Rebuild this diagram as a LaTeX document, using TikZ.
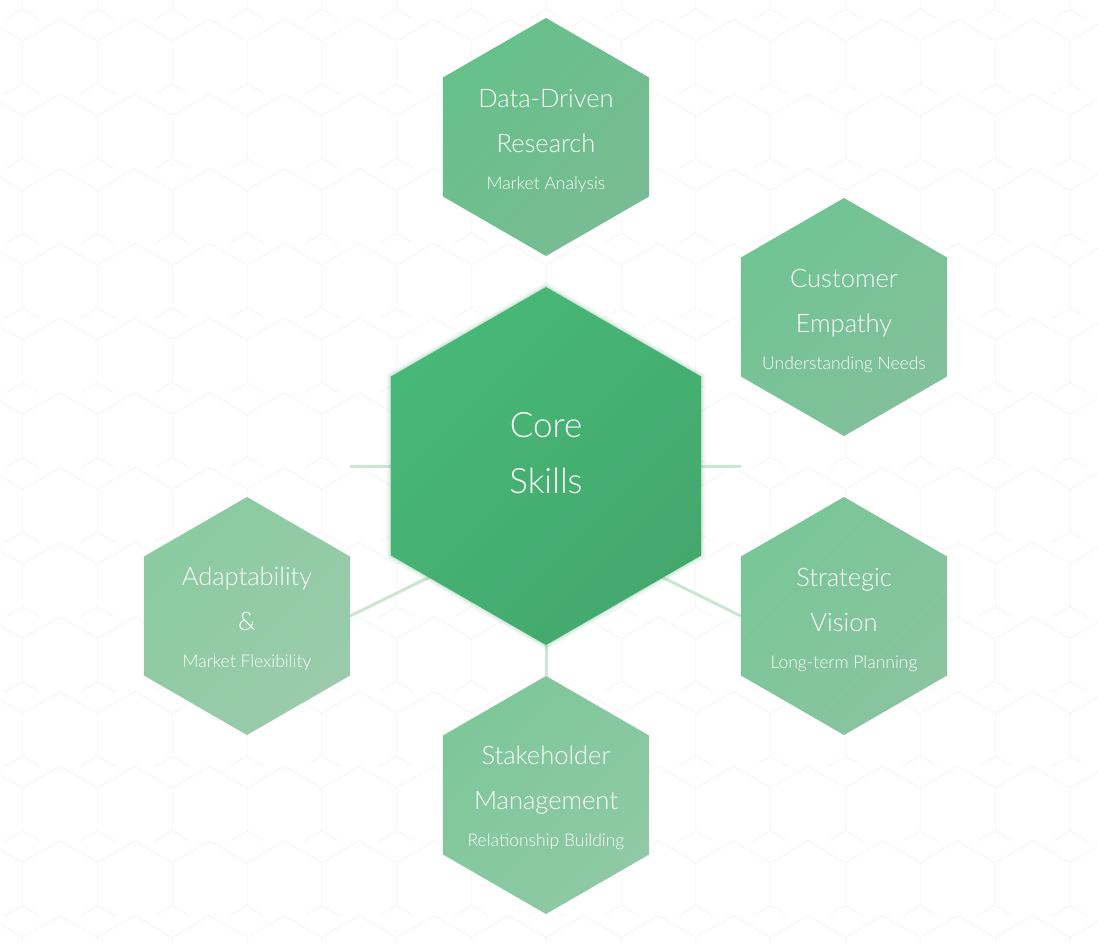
\documentclass[tikz,border=0pt]{standalone}
\usepackage{fontspec}
\IfFontExistsTF{Lato Light}{\setmainfont{Lato Light}}{\setmainfont{Liberation Sans}}
\usetikzlibrary{shapes.geometric}
\definecolor{coreA}{HTML}{47B878}
\definecolor{coreB}{HTML}{44A86D}
\definecolor{dataA}{HTML}{66C089}
\definecolor{dataB}{HTML}{79BC94}
\definecolor{custA}{HTML}{70C493}
\definecolor{custB}{HTML}{83C09C}
\definecolor{stratA}{HTML}{79C697}
\definecolor{stratB}{HTML}{8AC4A0}
\definecolor{stakeA}{HTML}{7EC79A}
\definecolor{stakeB}{HTML}{8FC9A5}
\definecolor{adaptA}{HTML}{8ACBA0}
\definecolor{adaptB}{HTML}{9BCBAC}
\definecolor{linkgreen}{HTML}{CBE7D3}
\definecolor{gridgray}{HTML}{F7F7F7}
\pgfdeclarelayer{bg}
\pgfsetlayers{bg,main}
\tikzset{
  hexbox/.style={regular polygon, regular polygon sides=6, shape border rotate=30,
    inner sep=0pt, outer sep=0pt, draw=none},
  smallhex/.style={hexbox, minimum size=238pt},
  bighex/.style={hexbox, minimum size=358pt},
  titletext/.style={text=white, font=\fontsize{25.5}{30}\selectfont, anchor=base, inner sep=0pt},
  subtext/.style={text=white, font=\fontsize{17.5}{21}\selectfont, anchor=base, inner sep=0pt},
  coretext/.style={text=white, font=\fontsize{35}{40}\selectfont, anchor=base, inner sep=0pt},
  link/.style={draw=linkgreen, line width=3pt},
  bggrid/.style={draw=gridgray, line width=1pt},
  shadeTLBR/.style n args={2}{top color=#1, bottom color=#2, shading angle=45},
}
\begin{document}
\begin{tikzpicture}[x=1pt,y=-1pt]
\useasboundingbox (0,0) rectangle (1098,943);
% hexagons
\node[bighex, shadeTLBR={coreA}{coreB},
  preaction={draw=coreB, draw opacity=0.06, line width=9pt},
  preaction={draw=coreB, draw opacity=0.10, line width=5pt},
  preaction={draw=coreB, draw opacity=0.15, line width=2pt}] (core) at (546,466) {};
\node[smallhex, shadeTLBR={dataA}{dataB}] (data) at (546,137) {};
\node[smallhex, shadeTLBR={custA}{custB}] (cust) at (844,317) {};
\node[smallhex, shadeTLBR={stratA}{stratB}] (strat) at (844,616) {};
\node[smallhex, shadeTLBR={stakeA}{stakeB}] (stake) at (546,795) {};
\node[smallhex, shadeTLBR={adaptA}{adaptB}] (adapt) at (247,616) {};
% texts
\node[coretext] (coreT1) at ([yshift=29pt]core.center) {Core};
\node[coretext] (coreT2) at ([yshift=-27pt]core.center) {Skills};
\node[titletext] (dataT1) at ([yshift=30pt]data.center) {Data-Driven};
\node[titletext] (dataT2) at ([yshift=-15pt]data.center) {Research};
\node[subtext] (dataT3) at ([yshift=-52pt]data.center) {Market Analysis};
\node[titletext] (custT1) at ([yshift=30pt]cust.center) {Customer};
\node[titletext] (custT2) at ([yshift=-15pt]cust.center) {Empathy};
\node[subtext] (custT3) at ([yshift=-52pt]cust.center) {Understanding Needs};
\node[titletext] (stratT1) at ([yshift=30pt]strat.center) {Strategic};
\node[titletext] (stratT2) at ([yshift=-15pt]strat.center) {Vision};
\node[subtext] (stratT3) at ([yshift=-52pt]strat.center) {Long-term Planning};
\node[titletext] (stakeT1) at ([yshift=31pt]stake.center) {Stakeholder};
\node[titletext] (stakeT2) at ([yshift=-14pt]stake.center) {Management};
\node[subtext] (stakeT3) at ([yshift=-51pt]stake.center) {Relationship Building};
\node[titletext] (adaptT1) at ([yshift=31pt]adapt.center) {Adaptability};
\node[titletext] (adaptT2) at ([yshift=-14pt]adapt.center) {\&};
\node[subtext] (adaptT3) at ([yshift=-51pt]adapt.center) {Market Flexibility};
\coordinate (hub) at (546,520);
\begin{pgfonlayer}{bg}
  \fill[white] (0,0) rectangle (1098,943);
  \begin{scope}
    \clip (0,0) rectangle (1098,943);
    \foreach \i in {-1,...,14}{
      \foreach \j in {-1,...,12}{
        \pgfmathsetmacro\ax{60+74.8*\i}
        \pgfmathsetmacro\ay{19.3+74.7*\j}
        \draw[bggrid] (\ax-37.4,\ay+21.6) -- (\ax,\ay) -- (\ax+37.4,\ay+21.6);
        \draw[bggrid] (\ax-37.4,\ay+21.6) -- (\ax-37.4,\ay+64.6);
        \draw[bggrid] (\ax-54.9,\ay+74.7) -- (\ax-37.4,\ay+64.6) -- (\ax-19.9,\ay+74.7);
      }
    }
  \end{scope}
  \draw[link] (adapt.east |- core.center) -- (strat.west |- core.center);
  \draw[link] (adapt.east) -- (hub);
  \draw[link] (strat.west) -- (hub);
  \draw[link] (core.south) -- (stake.north);
\end{pgfonlayer}
\end{tikzpicture}
\end{document}
